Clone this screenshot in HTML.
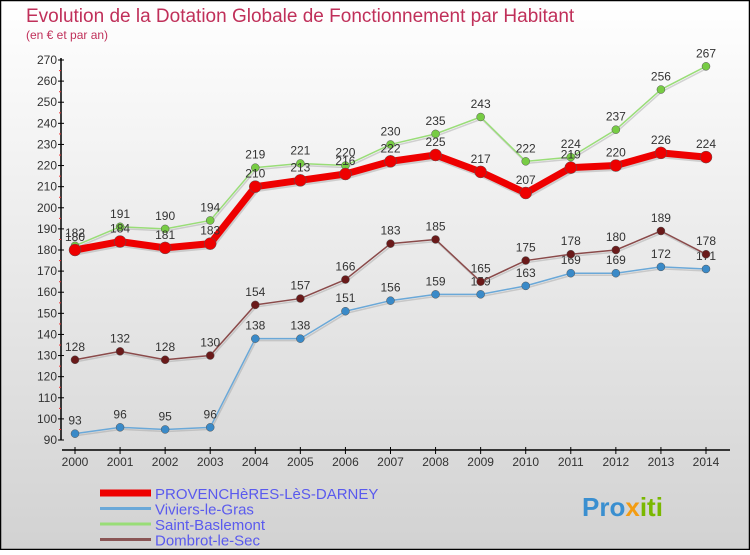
<!DOCTYPE html>
<html><head><meta charset="utf-8"><style>
html,body{margin:0;padding:0}
body{width:750px;height:550px;overflow:hidden;font-family:"Liberation Sans",sans-serif}
</style></head><body>
<svg id="chart" width="750" height="550" xmlns="http://www.w3.org/2000/svg">
<defs><linearGradient id="bg" x1="0" y1="0" x2="0" y2="1"><stop offset="0" stop-color="#ffffff"/><stop offset="1" stop-color="#d2d2d2"/></linearGradient></defs>
<rect x="0.5" y="0.5" width="749" height="549" fill="url(#bg)" stroke="#000" stroke-width="1.5"/>
<text x="26" y="22" font-size="19" fill="#c0305a">Evolution de la Dotation Globale de Fonctionnement par Habitant</text>
<text x="26" y="39" font-size="12" fill="#c0305a">(en € et par an)</text>
<g id="axes"></g><g id="series"></g><g id="legend"></g>
<text x="582" y="516" font-size="26" font-weight="bold" fill="#3a8fd0">Pro<tspan fill="#f39c12">x</tspan><tspan fill="#7ab800">iti</tspan></text>
</svg>
<script>
const years=[2000,2001,2002,2003,2004,2005,2006,2007,2008,2009,2010,2011,2012,2013,2014];
const yTicks=[90,100,110,120,130,140,150,160,170,180,190,200,210,220,230,240,250,260,270];
const provencheres=[180,184,181,183,210,213,216,222,225,217,207,219,220,226,224];
const viviers=[93,96,95,96,138,138,151,156,159,159,163,169,169,172,171];
const baslemont=[182,191,190,194,219,221,220,230,235,243,222,224,237,256,267];
const dombrot=[128,132,128,130,154,157,166,183,185,165,175,178,180,189,178];
const NS="http://www.w3.org/2000/svg";
function xs(i){return 75+i*(631/14);}
function ys(v){return 60+(270-v)*(380/180);}
function mk(tag,attrs,parent,txt){const e=document.createElementNS(NS,tag);for(const k in attrs)e.setAttribute(k,attrs[k]);if(txt!==undefined)e.textContent=txt;parent.appendChild(e);return e;}
const ax=document.getElementById('axes');
let e=mk('line',{x1:61,y1:58,x2:61,y2:440,stroke:'#000','stroke-width':1.5},ax);

e=mk('line',{x1:62,y1:450,x2:730,y2:450,stroke:'#000','stroke-width':1.5},ax);

yTicks.forEach(v=>{const y=ys(v);
 mk('line',{x1:58,y1:y,x2:64,y2:y,stroke:'#000'},ax);
 if(v<270)mk('line',{x1:59,y1:y-10.5,x2:61,y2:y-10.5,stroke:'#e33'},ax);
 e=mk('text',{x:57,y:y+4,'font-size':12,fill:'#333','text-anchor':'end'},ax,v);
 });
years.forEach((yr,i)=>{const x=xs(i);
 mk('line',{x1:x,y1:447,x2:x,y2:454,stroke:'#000'},ax);
 e=mk('text',{x:x,y:466,'font-size':12,fill:'#333','text-anchor':'middle'},ax,yr);
 });
const sg=document.getElementById('series');
function series(name,data,color,dot,w,r){
 const g=mk('g',{},sg);
 
 const pts=data.map((v,i)=>xs(i)+','+ys(v)).join(' ');
 mk('polyline',{points:pts,fill:'none',stroke:'#999','stroke-width':w,opacity:0.4,transform:'translate(1,2)'},g);
 const l=mk('polyline',{points:pts,fill:'none',stroke:color,'stroke-width':w,'stroke-linejoin':'round'},g);
 
 data.forEach((v,i)=>{const c=mk('circle',{cx:xs(i),cy:ys(v),r:r,fill:dot,stroke:'#555','stroke-width':0.5},g);
  
  const t=mk('text',{x:xs(i),y:ys(v)-9,'font-size':12,fill:'#333','text-anchor':'middle'},g,v);
  });
}
series('viviers',viviers,'#6aa8d8','#3a8ac8',1.5,4);
series('dombrot',dombrot,'#8a4a4a','#6a1a1a',1.5,4);
series('baslemont',baslemont,'#99dd77','#77cc44',1.5,4);
series('provencheres',provencheres,'#ee0000','#ee0000',7,6);
const lg=document.getElementById('legend');
const items=[['PROVENCHèRES-LèS-DARNEY','#ee0000',7],['Viviers-le-Gras','#6aa8d8',3],['Saint-Baslemont','#99dd77',3],['Dombrot-le-Sec','#8a5555',3]];
items.forEach((it,i)=>{const y=493+i*15.5;
 const g=mk('g',{},lg);
 
 mk('line',{x1:100,y1:y,x2:151,y2:y,stroke:it[1],'stroke-width':it[2]},g);
 mk('text',{x:155,y:y+6,'font-size':15,fill:'#5a5aee'},g,it[0]);});
</script>
</body></html>
